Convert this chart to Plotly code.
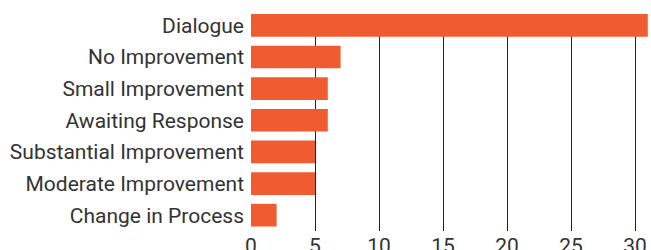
import plotly.graph_objects as go

categories = ["Dialogue", "No Improvement", "Small Improvement", "Awaiting Response",
              "Substantial Improvement", "Moderate Improvement", "Change in Process"]
values = [31, 7, 6, 6, 5, 5, 2]
tick_vals = [0, 5, 10, 15, 20, 25, 30]

fig = go.Figure(go.Bar(
    x=values, y=categories, orientation="h",
    marker=dict(color="#F15B31", line=dict(width=0)),
    hoverinfo="skip",
))

font_family = "Roboto"
fig.update_layout(
    width=651, height=250,
    margin=dict(l=251, r=0, t=14, b=19, autoexpand=False),
    paper_bgcolor="white", plot_bgcolor="white",
    bargap=0.283,
    showlegend=False,
    font=dict(family=font_family, size=21, color="#333333"),
    xaxis=dict(range=[0, 31.25], tickvals=tick_vals, showgrid=True,
               gridcolor="#222222", gridwidth=1, zeroline=True,
               zerolinecolor="rgba(0,0,0,0)", showline=False, ticks="",
               automargin=False, fixedrange=True),
    yaxis=dict(type="category", categoryorder="array", categoryarray=categories,
               range=[6.5, -0.3585], showgrid=False, zeroline=False,
               ticks="", ticklabelstandoff=6, automargin=False, fixedrange=True),
)
fig.write_html("out.html",
               config={"displayModeBar": False, "staticPlot": True},
               post_script="document.body.style.margin='0';document.body.style.overflow='hidden';")
